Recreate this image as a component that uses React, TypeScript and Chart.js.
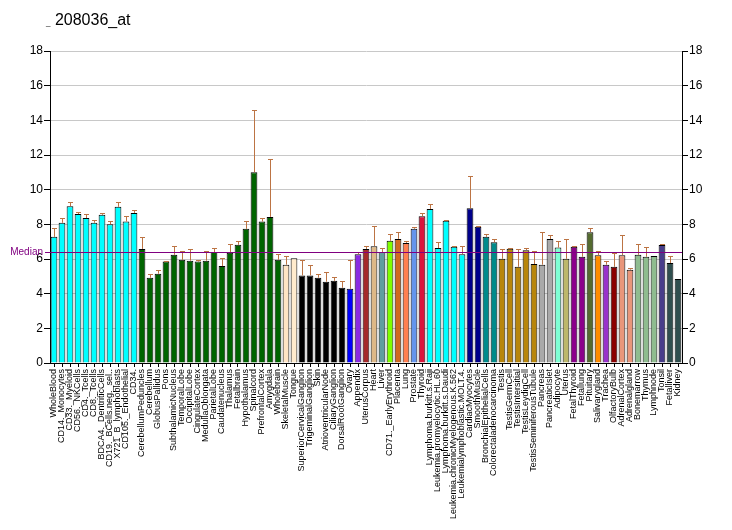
import { useEffect, useRef } from "react";
import Chart from "chart.js/auto";

const tissues = [
  "WholeBlood", "CD14._Monocytes", "CD33._Myeloid", "CD56._NKCells", "CD4._Tcells", "CD8._Tcells",
  "BDCA4._DentriticCells", "CD19._BCells.neg._sel..", "X721_B_lymphoblasts", "CD105._Endothelial", "CD34.",
  "CerebellumPeduncles", "Cerebellum", "GlobusPallidus", "Pons", "SubthalamicNucleus", "TemporalLobe",
  "OccipitalLobe", "CingulateCortex", "MedullaOblongata", "ParietalLobe", "Caudatenucleus", "Thalamus",
  "Fetalbrain", "Hypothalamus", "Spinalcord", "PrefrontalCortex", "Amygdala", "Wholebrain",
  "SkeletalMuscle", "Tongue", "SuperiorCervicalGanglion", "TrigeminalGanglion", "Skin",
  "AtrioventricularNode", "CiliaryGanglion", "DorsalRootGanglion", "Ovary", "Appendix", "UterusCorpus",
  "Heart", "Liver", "CD71._EarlyErythroid", "Placenta", "Lung", "Prostate", "Thyroid",
  "Lymphoma.burkitt.s.Raji", "Leukemia.promyelocytic.HL.60", "Lymphoma.burkitt.s.Daudi",
  "Leukemia.chronicMyelogenous.K.562", "Leukemialymphoblastic.MOLT.4.", "CardiacMyocytes", "SmoothMuscle",
  "BronchialEpithelialCells", "Colorectaladenocarcinoma", "Testis", "TestisGermCell", "TestisIntersitial",
  "TestisLeydigCell", "TestisSeminiferousTubule", "Pancreas", "PancreaticIslet", "Adipocyte", "Uterus",
  "FetalThyroid", "Fetallung", "Pituitary", "Salivarygland", "Trachea", "OlfactoryBulb", "AdrenalCortex",
  "Adrenalgland", "Bonemarrow", "Thymus", "Lymphnode", "Tonsil", "Fetalliver", "Kidney",
];

const expression = [
  7.28, 8.09, 9.05, 8.59, 8.36, 8.09, 8.55, 8.01, 9.01, 8.16, 8.66,
  6.58, 4.92, 5.15, 5.86, 6.24, 5.95, 5.9, 5.85, 5.9, 6.4, 5.59, 6.36, 6.82, 7.74, 11.01, 8.16, 8.43, 5.95,
  5.67, 6.05, 5.05, 5.05, 4.92, 4.69, 4.74, 4.34, 4.28, 6.28, 6.58, 6.74, 6.4, 7.05, 7.16, 6.93, 7.74, 8.47,
  8.89, 6.63, 8.2, 6.7, 6.28, 8.93, 7.86, 7.28, 6.97, 6.01, 6.59, 5.55, 6.51, 5.71, 5.67, 7.16, 6.66, 6.01,
  6.7, 6.13, 7.55, 6.22, 5.67, 5.55, 6.22, 5.38, 6.24, 6.13, 6.18, 6.81, 5.77, 4.84,
];

const errorTop = [
  7.78, 8.36, 9.28, 8.74, 8.59, 8.24, 8.66, 8.2, 9.28, 8.47, 8.85,
  7.28, 5.13, 5.36, 5.9, 6.75, 6.45, 6.58, 5.94, 6.45, 6.66, 6.05, 6.86, 7.05, 8.2, 14.58, 8.36, 11.78, 6.28,
  6.17, 6.05, 5.94, 5.67, 5.13, 5.25, 4.97, 4.74, 5.94, 6.4, 6.74, 7.93, 6.66, 7.43, 7.55, 7.05, 7.86, 8.66,
  9.16, 6.97, 8.24, 6.74, 6.74, 10.78, 7.93, 7.43, 7.16, 6.55, 6.66, 6.59, 6.66, 6.47, 7.55, 7.36, 7.05, 7.16,
  6.74, 6.86, 7.78, 6.47, 5.9, 6.36, 7.4, 5.5, 6.86, 6.7, 6.18, 6.86, 6.19, 4.84,
];

const median = 6.4;
const yTicks = [0, 2, 4, 6, 8, 10, 12, 14, 16, 18];

const barColors = [
  ...Array(11).fill("#00FFFF"),
  ...Array(18).fill("#006400"),
  "#FFE4C4", "#FFEBCD",
  ...Array(6).fill("#000000"),
  "#0000FF", "#8A2BE2", "#A52A2A", "#DEB887", "#5F9EA0", "#7FFF00", "#D2691E", "#FF7F50", "#6495ED", "#DC143C",
  ...Array(5).fill("#00FFFF"),
  "#00008B", "#00008B", "#008B8B", "#008B8B",
  ...Array(5).fill("#B8860B"),
  "#A9A9A9", "#A9A9A9", "#7FFFD4", "#BDB76B", "#8B008B", "#8B008B", "#556B2F", "#FF8C00", "#9932CC", "#8B0000",
  "#E9967A", "#E9967A", "#8FBC8F", "#8FBC8F", "#8FBC8F", "#483D8B", "#2F4F4F", "#2F4F4F",
];

const overlay = {
  id: "overlay",
  afterDatasetsDraw(chart: any) {
    const { ctx, chartArea } = chart;
    const y = chart.scales.y;
    const meta = chart.getDatasetMeta(0);
    ctx.save();
    ctx.strokeStyle = "#BC7444";
    ctx.lineWidth = 1;
    meta.data.forEach((bar: any, i: number) => {
      if (errorTop[i] <= expression[i]) return;
      const x = Math.round(bar.x) + 0.5;
      const y0 = y.getPixelForValue(expression[i]);
      const y1 = Math.round(y.getPixelForValue(errorTop[i])) + 0.5;
      ctx.beginPath();
      ctx.moveTo(x, y0);
      ctx.lineTo(x, y1);
      ctx.moveTo(x - 2.5, y1);
      ctx.lineTo(x + 2.5, y1);
      ctx.stroke();
    });
    const my = Math.round(y.getPixelForValue(median)) + 0.5;
    ctx.strokeStyle = "#800080";
    ctx.beginPath();
    ctx.moveTo(chartArea.left - 5, my);
    ctx.lineTo(chartArea.right, my);
    ctx.stroke();
    ctx.fillStyle = "#800080";
    ctx.font = "10px Arial, 'Liberation Sans', sans-serif";
    ctx.textAlign = "right";
    ctx.textBaseline = "middle";
    ctx.fillText("Median", chartArea.left - 7, my);
    ctx.restore();
  },
};

export default function App() {
  const canvasRef = useRef<HTMLCanvasElement>(null);
  const chartRef = useRef<Chart | null>(null);

  useEffect(() => {
    document.body.style.margin = "0";
    if (!canvasRef.current) return;
    if (chartRef.current) chartRef.current.destroy();

    const yAxis = (position: "left" | "right", width: number) => ({
      type: "linear" as const,
      position,
      min: 0,
      max: 18,
      afterBuildTicks: (scale: any) => {
        scale.ticks = yTicks.map((v) => ({ value: v }));
      },
      afterFit: (scale: any) => {
        scale.width = width;
      },
      border: { color: "#000", width: 1 },
      grid: {
        color: "#C8C8C8",
        tickColor: "#000",
        tickLength: 6,
        drawOnChartArea: position === "left",
      },
      ticks: {
        color: "#000",
        padding: 1,
        font: { family: "Arial, 'Liberation Sans', sans-serif", size: 12 },
      },
    });

    chartRef.current = new Chart(canvasRef.current, {
      type: "bar",
      data: {
        labels: tissues,
        datasets: [
          {
            data: expression,
            backgroundColor: barColors,
            borderColor: "#000",
            borderWidth: 1,
            categoryPercentage: 1,
            barPercentage: 0.84,
            yAxisID: "y",
          },
        ],
      },
      options: {
        animation: false,
        responsive: true,
        maintainAspectRatio: false,
        layout: { padding: { left: 8, top: 51, right: 0, bottom: 0 } },
        plugins: {
          legend: { display: false },
          tooltip: { enabled: false },
        },
        scales: {
          x: {
            afterFit: (scale: any) => {
              scale.height = 167;
            },
            border: { color: "#000", width: 1 },
            grid: { drawOnChartArea: false, tickColor: "#000", tickLength: 4, offset: false },
            ticks: {
              autoSkip: false,
              minRotation: 90,
              maxRotation: 90,
              padding: 2,
              color: "#000",
              font: { family: "Arial, 'Liberation Sans', sans-serif", size: 9 },
            },
          },
          y: yAxis("left", 42),
          y2: yAxis("right", 50),
        },
      },
      plugins: [overlay],
    });

    return () => {
      if (chartRef.current) chartRef.current.destroy();
      chartRef.current = null;
    };
  }, []);

  return (
    <div style={{ position: "relative", width: 732, height: 530, background: "#fff" }}>
      <div
        style={{
          position: "absolute",
          left: 46,
          top: 11,
          fontFamily: "Arial, 'Liberation Sans', sans-serif",
          fontSize: 16,
          color: "#000",
          whiteSpace: "pre",
        }}
      >
        <span style={{ fontSize: 8 }}>_</span> 208036_at
      </div>
      <canvas ref={canvasRef} />
    </div>
  );
}
